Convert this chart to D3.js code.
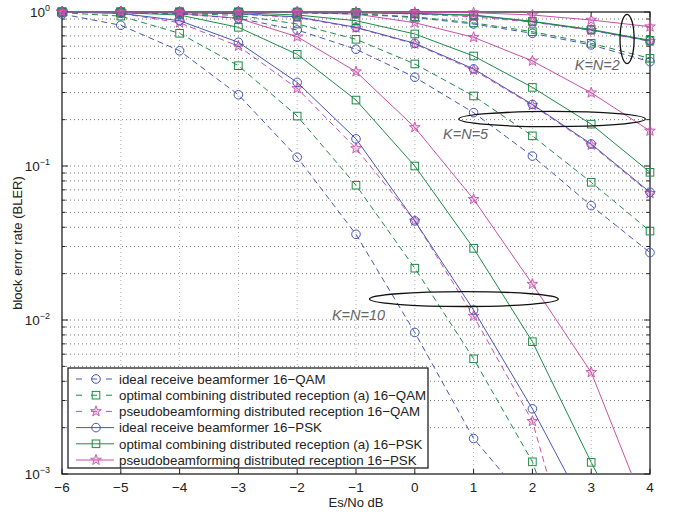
<!DOCTYPE html>
<html lang="en">
<head>
<meta charset="UTF-8">
<title>BLER vs Es/No</title>
<script src="https://d3js.org/d3.v7.min.js"></script>
<style>
  body { margin: 0; background: #fff; font-family: "Liberation Sans", Arial, sans-serif; }
  svg text { fill: #222; }
</style>
</head>
<body>
<svg id="chart" width="677" height="514"></svg>
<script>
// Es/No points (dB) and ticks
const snr = [-6, -5, -4, -3, -2, -1, 0, 1, 2, 3, 4];
const xTicks = [-6, -5, -4, -3, -2, -1, 0, 1, 2, 3, 4];
const yDecades = [-3, -2, -1, 0];

// K=N=10
const ideal10QAM  = [0.97, 0.82, 0.56, 0.29, 0.114, 0.036, 0.0083, 0.0017, 0.0006, null, null];
const opt10QAM    = [0.99, 0.94, 0.727, 0.448, 0.211, 0.075, 0.0217, 0.0056, 0.0012, 0.0001, null];
const pseudo10QAM = [1, 0.98, 0.852, 0.60, 0.319, 0.13, 0.044, 0.0106, 0.0022, 0.0001, null];
const ideal10PSK  = [1, 0.98, 0.878, 0.636, 0.349, 0.15, 0.044, 0.0116, 0.00265, 0.0005, null];
const opt10PSK    = [1, 0.99, 0.956, 0.795, 0.531, 0.268, 0.1, 0.0292, 0.00723, 0.00119, 0.00022];
const pseudo10PSK = [1, 1, 0.98, 0.91, 0.691, 0.41, 0.178, 0.0608, 0.0171, 0.00457, 0.0005];

// K=N=5
const ideal5QAM  = [1, 0.99, 0.97, 0.91, 0.764, 0.573, 0.377, 0.222, 0.116, 0.0553, 0.0274];
const opt5QAM    = [1, 1, 0.98, 0.95, 0.836, 0.665, 0.46, 0.285, 0.157, 0.0784, 0.0378];
const pseudo5QAM = [1, 1, 0.99, 0.97, 0.92, 0.79, 0.62, 0.42, 0.248, 0.137, 0.0665];
const ideal5PSK  = [1, 1, 0.99, 0.975, 0.93, 0.795, 0.626, 0.427, 0.251, 0.139, 0.0675];
const opt5PSK    = [1, 1, 1, 0.99, 0.956, 0.878, 0.72, 0.518, 0.324, 0.187, 0.091];
const pseudo5PSK = [1, 1, 1, 1, 0.99, 0.97, 0.852, 0.685, 0.481, 0.299, 0.169];

// K=N=2
const ideal2QAM  = [1, 1, 1, 1, 0.99, 0.97, 0.92, 0.836, 0.727, 0.611, 0.476];
const opt2QAM    = [1, 1, 1, 1, 0.99, 0.975, 0.93, 0.85, 0.745, 0.626, 0.5];
const pseudo2QAM = [1, 1, 1, 1, 1, 0.99, 0.97, 0.93, 0.86, 0.76, 0.645];
const ideal2PSK  = [1, 1, 1, 1, 1, 0.99, 0.975, 0.95, 0.866, 0.764, 0.648];
const opt2PSK    = [1, 1, 1, 1, 1, 0.995, 0.98, 0.956, 0.87, 0.77, 0.655];
const pseudo2PSK = [1, 1, 1, 1, 1, 1, 0.995, 0.99, 0.956, 0.887, 0.803];

const legendLabels = [
  "ideal receive beamformer 16\u2212QAM",
  "optimal combining distributed reception (a) 16\u2212QAM",
  "pseudobeamforming distributed reception 16\u2212QAM",
  "ideal receive beamformer 16\u2212PSK",
  "optimal combining distributed reception (a) 16\u2212PSK",
  "pseudobeamforming distributed reception 16\u2212PSK"
];

// annotations: ellipse extents in data units, label anchor
const groupLabels = ["K=N=2", "K=N=5", "K=N=10"];
const ellipseX0 = [3.49, 0.75, -0.77];
const ellipseX1 = [3.73, 3.92, 2.44];
const ellipseYTop = [0.966, 0.226, 0.0153];
const ellipseYBot = [0.462, 0.180, 0.01224];
const labelX = [2.72, 0.48, -1.41];
const labelY = [0.42, 0.15, 0.01];

// styles per method (ideal / optimal / pseudo)
const colors = ["#4558b8", "#1c8c45", "#c94fab"];
const symbols = ["circle", "square", "star"];

const curves = [
  [ideal10QAM, 0, true], [opt10QAM, 1, true], [pseudo10QAM, 2, true],
  [ideal10PSK, 0, false], [opt10PSK, 1, false], [pseudo10PSK, 2, false],
  [ideal5QAM, 0, true], [opt5QAM, 1, true], [pseudo5QAM, 2, true],
  [ideal5PSK, 0, false], [opt5PSK, 1, false], [pseudo5PSK, 2, false],
  [ideal2QAM, 0, true], [opt2QAM, 1, true], [pseudo2QAM, 2, true],
  [ideal2PSK, 0, false], [opt2PSK, 1, false], [pseudo2PSK, 2, false]
];

const svg = d3.select("#chart");
const margin = { top: 12, right: 27, bottom: 40, left: 62 };
const width = 677 - margin.left - margin.right;
const height = 514 - margin.top - margin.bottom;

const x = d3.scaleLinear().domain([-6, 4]).range([0, width]);
const y = d3.scaleLog().domain([1e-3, 1]).range([height, 0]);

const g = svg.append("g").attr("transform", `translate(${margin.left},${margin.top})`);

svg.append("defs").append("clipPath").attr("id", "clip")
  .append("rect").attr("width", width).attr("height", height);

// grid
const minorY = [];
yDecades.forEach(e => { if (e < 0) for (let k = 1; k <= 9; k++) minorY.push(k * Math.pow(10, e)); });
minorY.push(1);

g.append("g").selectAll("line").data(minorY.filter(v => v > 1e-3 && v < 1)).join("line")
  .attr("x1", 0).attr("x2", width)
  .attr("y1", d => y(d)).attr("y2", d => y(d))
  .attr("stroke", "#555").attr("stroke-width", 0.8).attr("stroke-dasharray", "1,3");

g.append("g").selectAll("line").data(xTicks.slice(1, -1)).join("line")
  .attr("x1", d => x(d)).attr("x2", d => x(d))
  .attr("y1", 0).attr("y2", height)
  .attr("stroke", "#999").attr("stroke-width", 0.8).attr("stroke-dasharray", "1,3");

// inside ticks
const tickLen = (v) => Math.abs(Math.log10(v) - Math.round(Math.log10(v))) < 1e-9 ? 6 : 3.5;
const tk = g.append("g").attr("stroke", "#222").attr("stroke-width", 1);
minorY.filter(v => v >= 1e-3 && v <= 1).forEach(v => {
  tk.append("line").attr("x1", 0).attr("x2", tickLen(v)).attr("y1", y(v)).attr("y2", y(v));
  tk.append("line").attr("x1", width).attr("x2", width - tickLen(v)).attr("y1", y(v)).attr("y2", y(v));
});
xTicks.forEach(v => {
  tk.append("line").attr("x1", x(v)).attr("x2", x(v)).attr("y1", height).attr("y2", height - 5);
  tk.append("line").attr("x1", x(v)).attr("x2", x(v)).attr("y1", 0).attr("y2", 5);
});

// frame
g.append("rect").attr("width", width).attr("height", height)
  .attr("fill", "none").attr("stroke", "#222").attr("stroke-width", 1.3);

// tick labels
g.append("g").selectAll("text").data(xTicks).join("text")
  .attr("x", d => x(d)).attr("y", height + 18)
  .attr("text-anchor", "middle").attr("font-size", 13.5)
  .text(d => d < 0 ? "\u2212" + Math.abs(d) : d);

const yl = g.append("g").selectAll("text").data(yDecades).join("text")
  .attr("x", -12).attr("y", d => y(Math.pow(10, d)) + 5)
  .attr("text-anchor", "end").attr("font-size", 13.5);
yl.append("tspan").text("10");
yl.append("tspan").attr("dy", -6).attr("font-size", 9).text(d => d === 0 ? "0" : "\u2212" + Math.abs(d));

// axis titles
svg.append("text").attr("x", margin.left + width / 2).attr("y", 507)
  .attr("text-anchor", "middle").attr("font-size", 13).text("Es/No dB");
svg.append("text").attr("transform", `translate(22,${margin.top + height / 2}) rotate(-90)`)
  .attr("text-anchor", "middle").attr("font-size", 13).text("block error rate (BLER)");

// marker drawing
function starPath(r) {
  const pts = [];
  for (let i = 0; i < 10; i++) {
    const rr = i % 2 === 0 ? r : r * 0.4;
    const a = -Math.PI / 2 + i * Math.PI / 5;
    pts.push([rr * Math.cos(a), rr * Math.sin(a)]);
  }
  return "M" + pts.map(p => p.join(",")).join("L") + "Z";
}
function drawMarker(sel, m, color) {
  if (symbols[m] === "circle") {
    sel.append("circle").attr("r", 4.3).attr("fill", "none").attr("stroke", color).attr("stroke-width", 1);
  } else if (symbols[m] === "square") {
    sel.append("rect").attr("x", -3.8).attr("y", -3.8).attr("width", 7.6).attr("height", 7.6)
      .attr("fill", "none").attr("stroke", color).attr("stroke-width", 1);
  } else {
    sel.append("path").attr("d", starPath(5.6)).attr("fill", color).attr("fill-opacity", 0.25)
      .attr("stroke", color).attr("stroke-width", 0.9);
  }
}

const line = d3.line()
  .defined(d => d[1] != null)
  .x(d => x(d[0])).y(d => y(d[1]));

const plot = g.append("g");
curves.forEach(([vals, m, dashed]) => {
  const pts = snr.map((s, i) => [s, vals[i]]);
  plot.append("path").datum(pts)
    .attr("clip-path", "url(#clip)")
    .attr("fill", "none").attr("stroke", colors[m]).attr("stroke-width", 1)
    .attr("stroke-dasharray", dashed ? "6,4" : null)
    .attr("d", line);
  pts.filter(p => p[1] != null && p[1] >= 1e-3).forEach(p => {
    const mk = plot.append("g").attr("transform", `translate(${x(p[0])},${y(p[1])})`);
    drawMarker(mk, m, colors[m]);
  });
});

// group annotations
groupLabels.forEach((lab, i) => {
  const cx = (x(ellipseX0[i]) + x(ellipseX1[i])) / 2;
  const cy = (y(ellipseYTop[i]) + y(ellipseYBot[i])) / 2;
  g.append("ellipse").attr("cx", cx).attr("cy", cy)
    .attr("rx", (x(ellipseX1[i]) - x(ellipseX0[i])) / 2)
    .attr("ry", (y(ellipseYBot[i]) - y(ellipseYTop[i])) / 2)
    .attr("fill", "none").attr("stroke", "#111").attr("stroke-width", 1.3);
  g.append("text").attr("x", x(labelX[i])).attr("y", y(labelY[i]))
    .attr("font-size", 14.5).attr("font-style", "italic")
    .style("fill", "#666").text(lab);
});

// legend
const lg = g.append("g").attr("transform", `translate(6,${height - 106})`);
lg.append("rect").attr("width", 360).attr("height", 100)
  .attr("fill", "#fff").attr("stroke", "#222").attr("stroke-width", 1.3);
legendLabels.forEach((lab, i) => {
  const m = i % 3, dashed = i < 3;
  const ry = 11 + i * 16.2;
  lg.append("line").attr("x1", 8).attr("x2", 46).attr("y1", ry).attr("y2", ry)
    .attr("stroke", colors[m]).attr("stroke-width", 1)
    .attr("stroke-dasharray", dashed ? "6,9" : null);
  drawMarker(lg.append("g").attr("transform", `translate(28,${ry})`), m, colors[m]);
  lg.append("text").attr("x", 51).attr("y", ry + 4.8).attr("font-size", 13.3).text(lab);
});
</script>
</body>
</html>
